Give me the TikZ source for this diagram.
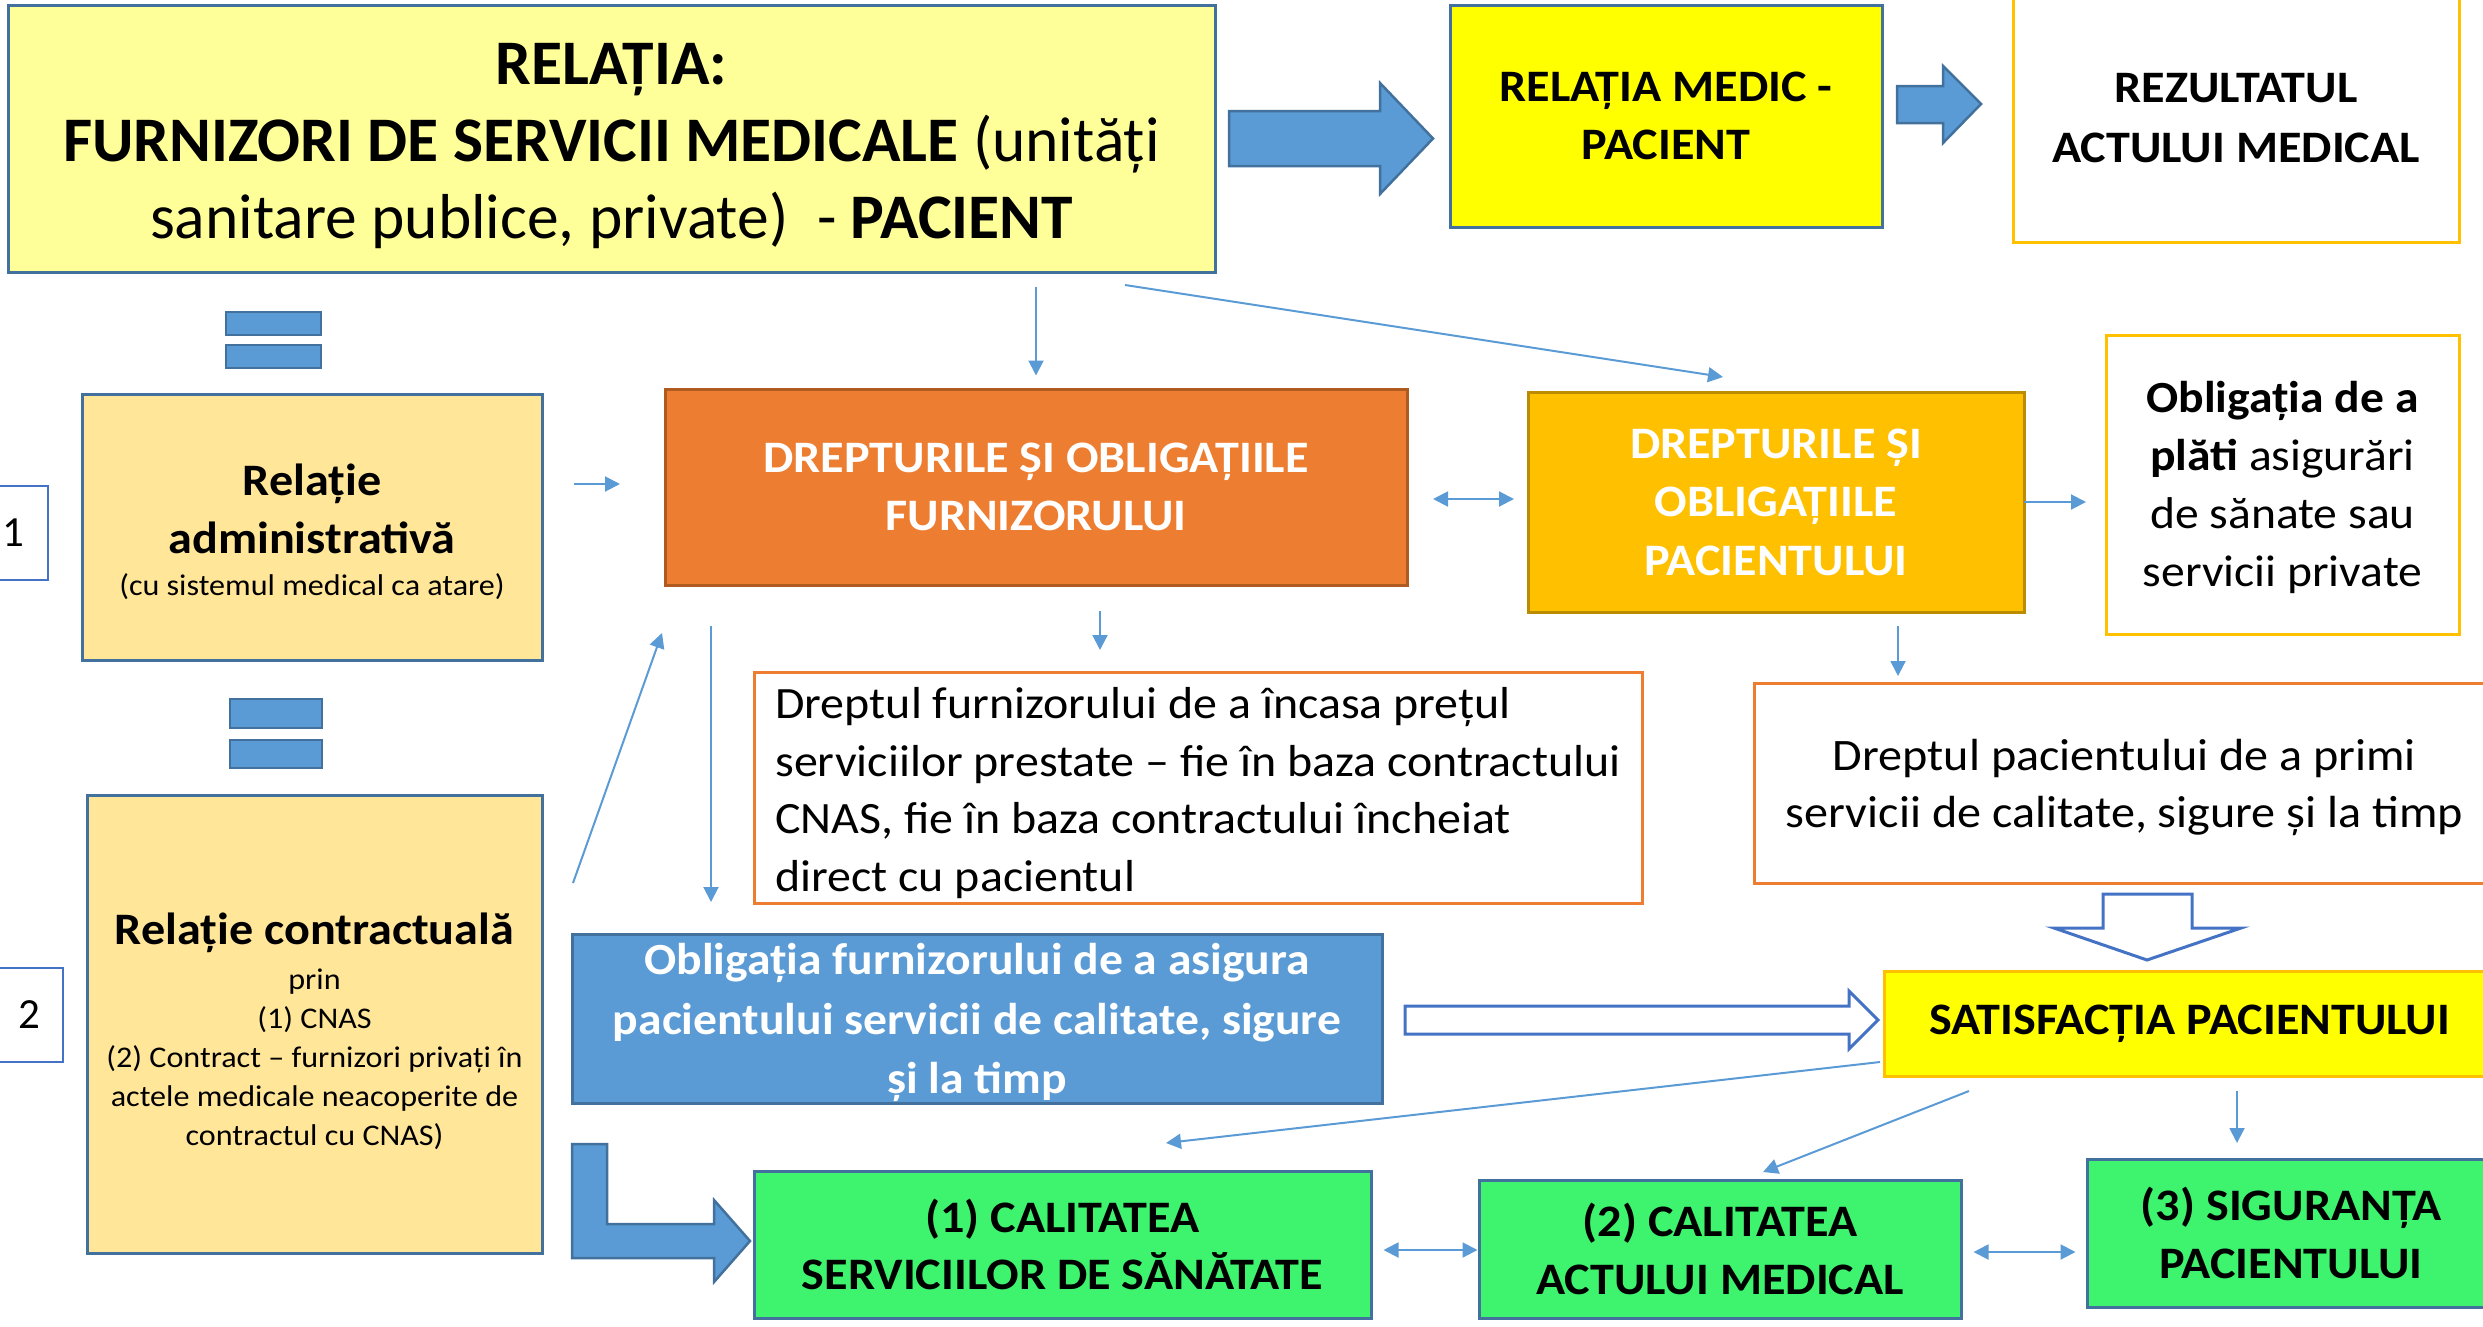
\documentclass[tikz,border=0pt]{standalone}
\usepackage{fontspec}
\setmainfont{Carlito}[FakeStretch=1.07]
\newfontfamily\plainfont{Carlito}
\usetikzlibrary{arrows.meta}
\newcommand\myup[1]{\rule{0pt}{#1}}
\definecolor{topfill}{HTML}{FFFF99}
\definecolor{bgrey}{HTML}{41719C}
\definecolor{ablue}{HTML}{5B9BD5}
\definecolor{yel}{HTML}{FFFF00}
\definecolor{gold}{HTML}{FFC000}
\definecolor{dgold}{HTML}{BC8C00}
\definecolor{lightor}{HTML}{FFE699}
\definecolor{orng}{HTML}{ED7D31}
\definecolor{dorng}{HTML}{AE5A21}
\definecolor{hblue}{HTML}{4472C4}
\definecolor{grn}{HTML}{3EF36E}
\begin{document}
\begin{tikzpicture}[x=1pt,y=-1pt,
  box/.style={draw=bgrey, line width=3pt, inner sep=0pt, align=center},
  eqbar/.style={draw=bgrey, fill=ablue, line width=2pt, inner sep=0pt},
  numbox/.style={draw=hblue, fill=white, line width=2.5pt, inner sep=0pt, font=\plainfont\fontsize{43}{50}\selectfont},
  arr/.style={draw=ablue, line width=2pt, -{Triangle[length=15pt,width=15pt]}},
  dblarr/.style={draw=ablue, line width=2pt, {Triangle[length=15pt,width=15pt]}-{Triangle[length=15pt,width=15pt]}},
  blockarr/.style={fill=ablue, draw=bgrey, line width=2.5pt, line join=miter},
  hollowarr/.style={fill=white, draw=hblue, line width=3pt, line join=miter},
  btxt45/.style={font=\bfseries\fontsize{45}{57.5}\selectfont}
]
\useasboundingbox (0,0) rectangle (2483,1326);
\clip (0,0) rectangle (2483,1326);

% ---------- top row ----------
\node[box, fill=topfill, minimum width=1207pt, minimum height=267pt,
      font=\plainfont\fontsize{63.5}{77}\selectfont] (rel) at (611.5,138.5)
  {\myup{57pt}\textbf{RELAȚIA:}\\\textbf{FURNIZORI DE SERVICII MEDICALE} (unități\\sanitare publice, private)\ \ - \textbf{PACIENT}};
\node[box, fill=yel, minimum width=432pt, minimum height=222pt, btxt45] (medic) at (1666,116)
  {RELAȚIA MEDIC -\\PACIENT};
\node[box, draw=gold, fill=white, minimum width=446pt, minimum height=248pt,
      font=\bfseries\fontsize{45}{60}\selectfont] (rez) at (2236,118)
  {REZULTATUL\\ACTULUI MEDICAL};

% block arrows top
\draw[blockarr] (1229,111) -- (1380,111) -- (1380,83) -- (1433,138.5) -- (1380,194) -- (1380,166) -- (1229,166) -- cycle;
\draw[blockarr] (1897,86) -- (1943,86) -- (1943,66) -- (1981,104) -- (1943,143) -- (1943,123) -- (1897,123) -- cycle;

% ---------- left column ----------
\node[eqbar, minimum width=95pt, minimum height=23pt] (eq1a) at (273.5,323.5) {};
\node[eqbar, minimum width=95pt, minimum height=23pt] (eq1b) at (273.5,356.5) {};
\node[box, fill=lightor, minimum width=460pt, minimum height=266pt,
      font=\bfseries\fontsize{45}{58}\selectfont] (admin) at (312,527)
  {\myup{42pt}Relație\\administrativă\\[-16pt]{\mdseries\fontsize{30}{34}\selectfont (cu sistemul medical ca atare)}};
\node[numbox, minimum width=70pt, minimum height=94pt] (n1) at (13,533) {1};

\node[eqbar, minimum width=92pt, minimum height=29pt] (eq2a) at (276,713.5) {};
\node[eqbar, minimum width=92pt, minimum height=28pt] (eq2b) at (276,754) {};
\node[box, fill=lightor, minimum width=455pt, minimum height=458pt,
      font=\fontsize{30}{39}\selectfont] (contract) at (314.5,1024)
  {{\bfseries\fontsize{45}{39}\selectfont\myup{46pt}Relație contractuală}\\[6pt]prin\\(1) CNAS\\(2) Contract – furnizori privați în\\actele medicale neacoperite de\\contractul cu CNAS)};
\node[numbox, minimum width=68pt, minimum height=94pt] (n2) at (29,1015) {2};

% ---------- middle row ----------
\node[box, draw=dorng, fill=orng, text=white, minimum width=742pt, minimum height=196pt, btxt45] (furn) at (1036,487)
  {DREPTURILE ȘI OBLIGAȚIILE\\FURNIZORULUI};
\node[box, draw=dgold, fill=gold, text=white, minimum width=496pt, minimum height=220pt,
      font=\bfseries\fontsize{45}{58.5}\selectfont] (pac) at (1776,502)
  {DREPTURILE ȘI\\OBLIGAȚIILE\\PACIENTULUI};
\node[box, draw=gold, fill=white, minimum width=353pt, minimum height=299pt,
      font=\fontsize{44.5}{58}\selectfont] (oblig) at (2282.5,484.5)
  {\myup{38pt}\textbf{Obligația de a}\\\textbf{plăti} asigurări\\de sănate sau\\servicii private};

\node[box, draw=orng, fill=white, minimum width=888pt, minimum height=231pt,
      align=left, font=\fontsize{44.8}{57.5}\selectfont] (dfurn) at (1198,787.5)
  {\myup{42pt}Dreptul furnizorului de a încasa prețul\\serviciilor prestate – fie în baza contractului\\CNAS, fie în baza contractului încheiat\\direct cu pacientul};
\node[box, draw=orng, fill=white, minimum width=741pt, minimum height=200pt,
      font=\fontsize{45}{57.5}\selectfont] (dpac) at (2124.5,783)
  {\myup{40pt}Dreptul pacientului de a primi\\servicii de calitate, sigure și la timp};

\node[box, fill=ablue, text=white, minimum width=810pt, minimum height=169pt,
      font=\bfseries\fontsize{44.5}{59.5}\selectfont] (oblf) at (977,1018.5)
  {\myup{40pt}Obligația furnizorului de a asigura\\pacientului servicii de calitate, sigure\\și la timp};
\node[box, draw=gold, fill=yel, minimum width=611pt, minimum height=105pt, btxt45] (satisf) at (2189.5,1023.5)
  {SATISFACȚIA PACIENTULUI};

% ---------- bottom row ----------
\node[box, fill=grn, minimum width=617pt, minimum height=147pt, btxt45] (g1) at (1062.5,1244.5)
  {(1) CALITATEA\\SERVICIILOR DE SĂNĂTATE};
\node[box, fill=grn, minimum width=482pt, minimum height=138pt, btxt45] (g2) at (1720,1249)
  {(2) CALITATEA\\ACTULUI MEDICAL};
\node[box, fill=grn, minimum width=408pt, minimum height=148pt, btxt45] (g3) at (2291,1233)
  {(3) SIGURANȚA\\PACIENTULUI};

% block / hollow arrows
\draw[blockarr] (572,1144) -- (607,1144) -- (607,1224) -- (714,1224) -- (714,1200) -- (750,1241) -- (714,1282) -- (714,1258) -- (572,1258) -- cycle;
\draw[hollowarr] (1405,1006) -- (1849,1006) -- (1849,991) -- (1878,1020) -- (1849,1049) -- (1849,1034) -- (1405,1034) -- cycle;
\draw[hollowarr] (2103,894) -- (2192,894) -- (2192,928) -- (2241,928) -- (2147,960) -- (2054,928) -- (2103,928) -- cycle;

% ---------- thin connectors ----------
\draw[arr, shorten <=13pt, shorten >=12pt] (rel.south -| furn.north) -- (furn.north);
\coordinate (a2s) at (1125,285); \coordinate (a2e) at (1723,377);
\draw[arr] (a2s) -- (a2e);
\coordinate (a3s) at (574,484); \coordinate (a3e) at (620,484);
\draw[arr] (a3s) -- (a3e);
\coordinate (a4s) at (1433,499); \coordinate (a4e) at (1514,499);
\draw[dblarr] (a4s) -- (a4e);
\coordinate (a5s) at (2024,502); \coordinate (a5e) at (2086,502);
\draw[arr] (a5s) -- (a5e);
\coordinate (a6s) at (1100,611); \coordinate (a6e) at (1100,650);
\draw[arr] (a6s) -- (a6e);
\coordinate (a7s) at (1898,626); \coordinate (a7e) at (1898,676);
\draw[arr] (a7s) -- (a7e);
\coordinate (a8s) at (573,883); \coordinate (a8e) at (662,633);
\draw[arr] (a8s) -- (a8e);
\coordinate (a9s) at (711,626); \coordinate (a9e) at (711,902);
\draw[arr] (a9s) -- (a9e);
\coordinate (a10s) at (1880,1062); \coordinate (a10e) at (1166,1143);
\draw[arr] (a10s) -- (a10e);
\coordinate (a11s) at (1969,1091); \coordinate (a11e) at (1763,1172);
\draw[arr] (a11s) -- (a11e);
\coordinate (a12s) at (2237,1091); \coordinate (a12e) at (2237,1143);
\draw[arr] (a12s) -- (a12e);
\draw[dblarr, shorten <=11pt] (g1.east |- 0,1250) -- (g2.west |- 0,1250);
\draw[dblarr, shorten <=11pt, shorten >=10pt] (g2.east |- 0,1252) -- (g3.west |- 0,1252);
\end{tikzpicture}
\end{document}
